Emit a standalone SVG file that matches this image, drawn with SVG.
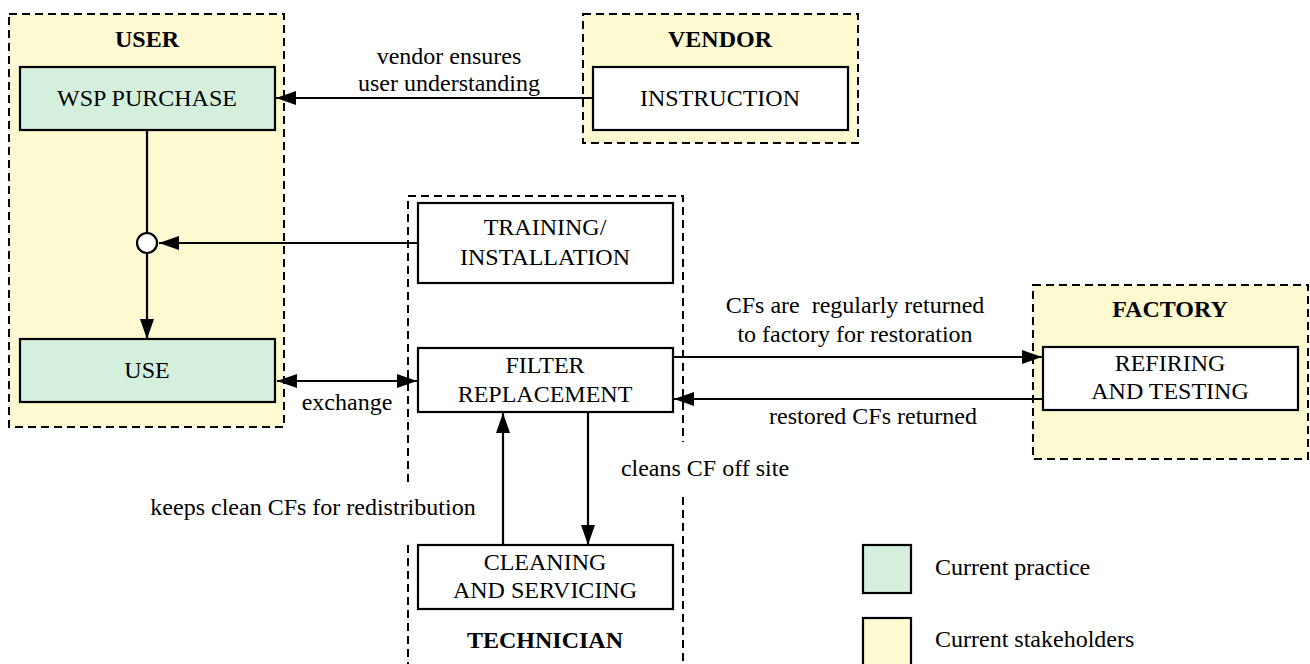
<svg xmlns="http://www.w3.org/2000/svg" width="1310" height="664" viewBox="0 0 1310 664" font-family="'Liberation Serif', Tinos, 'Times New Roman', 'DejaVu Serif', serif" font-size="24">
<style>
text{font-family:'Liberation Serif', Tinos, 'Times New Roman', 'DejaVu Serif', serif;font-size:24px;fill:#000}
.b{font-weight:bold}
.m{text-anchor:middle}
.zone{fill:#fdf9d1;stroke:#000;stroke-width:2;stroke-dasharray:8 5}
.zoneline{fill:none;stroke:#000;stroke-width:2;stroke-dasharray:8 5}
.green{fill:#d4f0dc;stroke:#000;stroke-width:2.2}
.white{fill:#fff;stroke:#000;stroke-width:2.2}
.c{fill:none;stroke:#000;stroke-width:2.2}
</style>
<defs>
<marker id="ah" markerUnits="userSpaceOnUse" markerWidth="22" markerHeight="16" refX="20" refY="7" orient="auto-start-reverse" viewBox="0 0 22 16">
<path d="M0,0 L20,7 L0,14 z" fill="#000"/>
</marker>
</defs>

<g id="user">
<rect class="zone" x="9" y="14" width="275" height="413"/>
<text class="b m" x="147" y="47">USER</text>
</g>
<g id="vendor">
<rect class="zone" x="583" y="14" width="275" height="129"/>
<text class="b m" x="720" y="47">VENDOR</text>
</g>
<g id="factory">
<rect class="zone" x="1033" y="285" width="275" height="174"/>
<text class="b m" x="1170" y="317">FACTORY</text>
</g>
<g id="technician">
<path class="zoneline" d="M408,482 V196 H683 V442 M683,497 V670 M408,545 V670"/>
<text class="b m" x="545" y="648">TECHNICIAN</text>
</g>

<g id="wsp-purchase">
<rect class="green" x="20" y="67" width="255" height="63"/>
<text class="m" x="147" y="106">WSP PURCHASE</text>
</g>
<g id="use">
<rect class="green" x="20" y="339" width="255" height="63"/>
<text class="m" x="147" y="378">USE</text>
</g>
<g id="instruction">
<rect class="white" x="593" y="67" width="255" height="63"/>
<text class="m" x="720" y="106">INSTRUCTION</text>
</g>
<g id="training">
<rect class="white" x="418" y="203" width="255" height="80"/>
<text class="m" x="545" y="235">TRAINING/</text>
<text class="m" x="545" y="265">INSTALLATION</text>
</g>
<g id="filter">
<rect class="white" x="418" y="348" width="255" height="64"/>
<text class="m" x="545" y="373">FILTER</text>
<text class="m" x="545" y="402">REPLACEMENT</text>
</g>
<g id="cleaning">
<rect class="white" x="418" y="545" width="255" height="64"/>
<text class="m" x="545" y="570">CLEANING</text>
<text class="m" x="545" y="598">AND SERVICING</text>
</g>
<g id="refiring">
<rect class="white" x="1043" y="347" width="255" height="63"/>
<text class="m" x="1170" y="371">REFIRING</text>
<text class="m" x="1170" y="399">AND TESTING</text>
</g>

<g id="connectors">
<line class="c" x1="593" y1="98" x2="276" y2="98" marker-end="url(#ah)"/>
<line class="c" x1="147" y1="130" x2="147" y2="233"/>
<line class="c" x1="147" y1="253" x2="147" y2="339" marker-end="url(#ah)"/>
<line class="c" x1="418" y1="243" x2="159" y2="243" marker-end="url(#ah)"/>
<circle cx="147" cy="243" r="10" fill="#fff" stroke="#000" stroke-width="2.2"/>
<line class="c" x1="277" y1="381" x2="417" y2="381" marker-start="url(#ah)" marker-end="url(#ah)"/>
<line class="c" x1="673" y1="357" x2="1042" y2="357" marker-end="url(#ah)"/>
<line class="c" x1="1043" y1="399" x2="674" y2="399" marker-end="url(#ah)"/>
<line class="c" x1="588" y1="412" x2="588" y2="545" marker-end="url(#ah)"/>
<line class="c" x1="503" y1="545" x2="503" y2="413" marker-end="url(#ah)"/>
</g>

<g id="labels">
<text class="m" x="449" y="64">vendor ensures</text>
<text class="m" x="449" y="91">user understanding</text>
<text class="m" x="347" y="410">exchange</text>
<text class="m" x="855" y="313" xml:space="preserve">CFs are  regularly returned</text>
<text class="m" x="855" y="342">to factory for restoration</text>
<text class="m" x="873" y="424">restored CFs returned</text>
<text class="m" x="705" y="476">cleans CF off site</text>
<text class="m" x="313" y="515">keeps clean CFs for redistribution</text>
</g>

<g id="legend">
<rect x="863" y="545" width="48" height="48" fill="#d4f0dc" stroke="#000" stroke-width="2.2"/>
<text x="935" y="575">Current practice</text>
<rect x="863" y="618" width="48" height="48" fill="#fdf9d1" stroke="#000" stroke-width="2.2"/>
<text x="935" y="647">Current stakeholders</text>
</g>
</svg>
